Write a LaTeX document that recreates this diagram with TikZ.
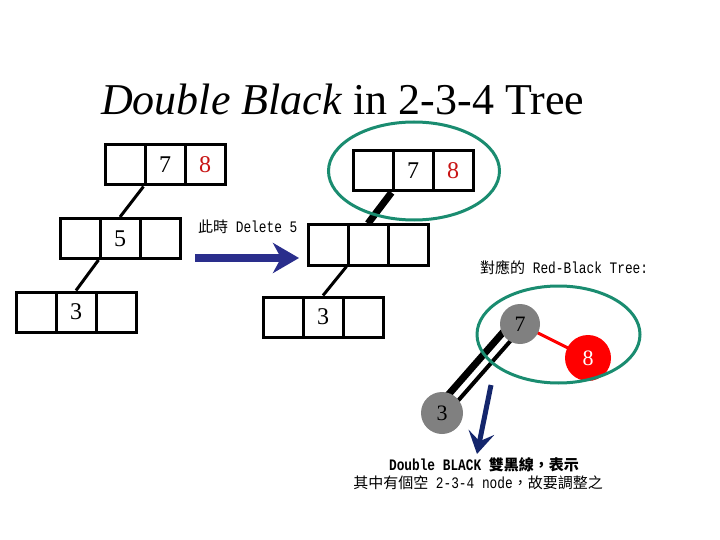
\documentclass[tikz,border=0pt]{standalone}
\usepackage{fontspec}
\setmainfont{Liberation Serif}
\newfontfamily\cjk{Noto Sans CJK TC}
\newfontfamily\monof[FakeStretch=0.8]{Liberation Mono}
\usetikzlibrary{arrows.meta}
\definecolor{arrblue}{RGB}{42,46,140}
\definecolor{arrnavy}{RGB}{20,38,108}
\definecolor{tealc}{RGB}{26,140,112}
\definecolor{boxred}{RGB}{200,20,20}
\definecolor{nodegray}{RGB}{128,128,128}
\newcommand\zh[1]{{\fontsize{15}{18}\selectfont\cjk #1}}
\newcommand\en[1]{{\fontsize{16}{18}\selectfont\monof #1}}
\newcommand\zhb[1]{{\fontsize{15}{18}\selectfont\cjk\bfseries #1}}
\newcommand\enb[1]{{\fontsize{16}{18}\selectfont\monof\bfseries #1}}
\tikzset{
  cell/.style={draw, line width=3pt, minimum width=40pt, minimum height=40pt, inner sep=0pt,
    font=\fontsize{24}{24}\selectfont},
  link/.style={line width=3pt},
  rb/.style={circle, minimum size=40pt, inner sep=0pt, font=\fontsize{22}{22}\selectfont},
  lbl/.style={inner sep=0pt, anchor=base west},
}
\begin{document}
\begin{tikzpicture}[x=1pt,y=-1pt]
\useasboundingbox (0,0) rectangle (720,540);
% title
\node[lbl] (title) at (101,115) {\fontsize{44}{44}\selectfont\textit{Double Black} in 2-3-4 Tree};
% left tree
\node[cell] (L1a) at (125,165) {};
\node[cell] (L1b) at (165,165) {7};
\node[cell, text=boxred] (L1c) at (205,165) {8};
\node[cell] (L2a) at (80,238.5) {};
\node[cell] (L2b) at (120,238.5) {5};
\node[cell] (L2c) at (160,238.5) {};
\node[cell] (L3a) at (36,312) {};
\node[cell] (L3b) at (76,312) {3};
\node[cell] (L3c) at (116,312) {};
\draw[link] (L1b.south west) -- (L2b.north);
\draw[link] (L2b.south west) -- (L3b.north);
% arrow
\node[lbl] (del) at (198,233) {\zh{此時}\en{~Delete 5}};
\coordinate (A1) at (195,258);
\coordinate (A2) at (299,258);
\draw[arrblue, line width=8pt, -{Stealth[length=26pt, width=30pt, inset=8pt]}] (A1) -- (A2);
% right tree
\node[cell] (R1a) at (373,171) {};
\node[cell] (R1b) at (413,171) {7};
\node[cell, text=boxred] (R1c) at (453,171) {8};
\node[cell] (R2a) at (328,245) {};
\node[cell] (R2b) at (368,245) {};
\node[cell] (R2c) at (408,245) {};
\node[cell] (R3a) at (283,317) {};
\node[cell] (R3b) at (323,317) {3};
\node[cell] (R3c) at (363,317) {};
\draw[line width=7pt] (R1b.south west) -- (R2b.north);
\draw[link] (R2b.south west) -- (R3b.north);
\coordinate (E1) at (414,171);
\draw[tealc, line width=3pt] (E1) ellipse [x radius=85.5, y radius=49];
% red-black tree
\node[lbl] (rbl) at (480,273) {\zh{對應的}\en{~Red-Black Tree:}};
\coordinate (n7c) at (520,324);
\coordinate (n3c) at (442,413);
\draw[red, line width=3pt] (n7c) -- (588,358);
\draw[line width=7pt] ([shift={(-5.5,-4.8)}]n3c) -- ([shift={(-5.5,-4.8)}]n7c);
\draw[line width=4pt] ([shift={(3,2.6)}]n3c) -- ([shift={(3,2.6)}]n7c);
\node[rb, fill=nodegray] (n7) at (n7c) {7};
\node[rb, fill=red, text=white, minimum size=46pt] (n8) at (588,358) {8};
\node[rb, fill=nodegray, minimum size=42pt] (n3) at (n3c) {3};
\coordinate (E2) at (558.5,334.5);
\draw[tealc, line width=3pt] (E2) ellipse [x radius=81.5, y radius=48.5];
\coordinate (B1) at (491,385);
\coordinate (B2) at (477,454);
\draw[arrnavy, line width=5pt, -{Stealth[length=22pt, width=26pt, inset=9pt]}] (B1) -- (B2);
% bottom text
\node[inner sep=0pt, anchor=base] (t1) at (484,470) {\enb{Double BLACK~}\zhb{雙黑線，表示}};
\node[inner sep=0pt, anchor=base] (t2) at (478,488) {\zh{其中有個空}\en{~2-3-4 node}\zh{，故要調整之}};
\end{tikzpicture}
\end{document}
